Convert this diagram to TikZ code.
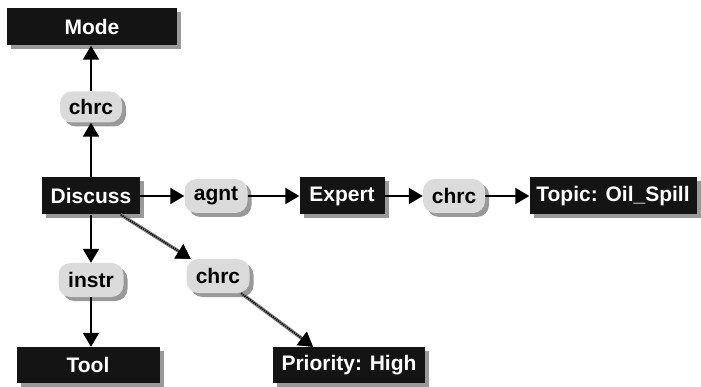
\documentclass[tikz,border=0pt]{standalone}
\usepackage{fontspec}
\setmainfont{Liberation Sans}
\usetikzlibrary{arrows.meta,shadows}

\tikzset{
  concept/.style={fill=black!92, text=white, font=\bfseries\fontsize{21}{23}\selectfont,
    minimum height=37pt, inner sep=0pt,
    drop shadow={shadow xshift=4pt, shadow yshift=-4pt, fill=black!40, opacity=1}},
  relation/.style={fill=black!14, text=black, rounded corners=12pt,
    font=\bfseries\fontsize{21}{23}\selectfont, minimum height=34pt, inner sep=0pt,
    drop shadow={shadow xshift=4pt, shadow yshift=-4pt, fill=black!40, opacity=1}},
  link/.style={line width=2pt, -{Triangle[length=14pt,width=16pt]}},
  hatch/.style={line width=3.5pt, draw=black!50, -{Triangle[length=14pt,width=16pt,color=black]},
    postaction={draw=black, line width=1.6pt, dash pattern=on 1.2pt off 1pt}}
}

\begin{document}
\begin{tikzpicture}[x=1pt,y=-1pt]
  \useasboundingbox[fill=white] (0,0) rectangle (701,387);
  %% concepts
  \node[concept, minimum width=170pt] (mode) at (92,27) {Mode};
  \node[concept, minimum width=98pt] (discuss) at (91,196) {Discuss};
  \node[concept, minimum width=85pt] (expert) at (342,196) {Expert};
  \node[concept, minimum width=167pt] (topic) at (613,196) {Topic: Oil\_Spill};
  \node[concept, minimum width=143pt, minimum height=36pt] (tool) at (88,365) {Tool};
  \node[concept, minimum width=152pt, minimum height=36pt] (priority) at (349,365) {Priority: High};
  %% relations
  \node[relation, minimum width=62pt, minimum height=31pt] (chrcmode) at (91,107) {chrc};
  \node[relation, minimum width=63pt] (agnt) at (216,196) {agnt};
  \node[relation, minimum width=62pt] (chrctopic) at (454,196) {chrc};
  \node[relation, minimum width=65pt] (instr) at (91,280) {instr};
  \node[relation, minimum width=63pt] (chrcprio) at (218,276) {chrc};
  %% arcs
  \draw[link] (discuss) -- (chrcmode);
  \draw[link] (chrcmode) -- (chrcmode |- mode.south);
  \draw[link] (discuss) -- (agnt);
  \draw[link] (agnt) -- (expert);
  \draw[link] (expert) -- (chrctopic);
  \draw[link] (chrctopic) -- (topic);
  \draw[link] (discuss) -- (instr);
  \draw[link] (instr) -- (instr |- tool.north);
  \draw[hatch] (discuss) -- (chrcprio);
  \draw[hatch] (chrcprio) -- ([xshift=-36pt]priority.north);
\end{tikzpicture}
\end{document}
